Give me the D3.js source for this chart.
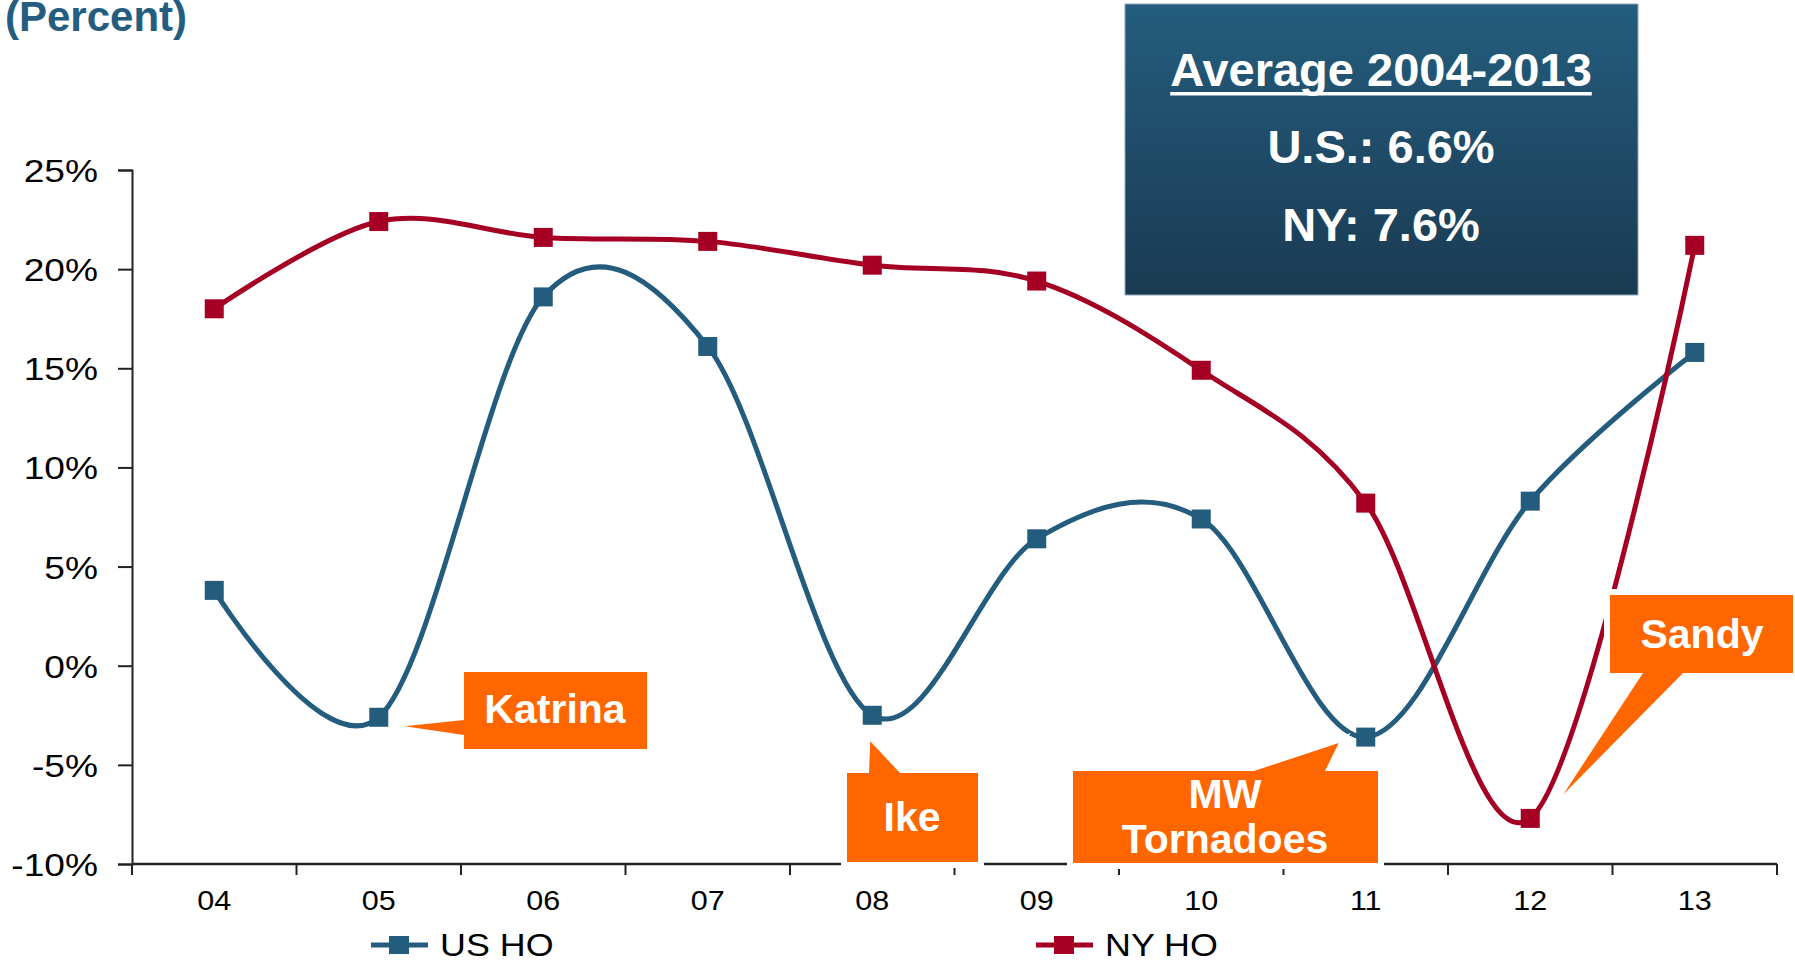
<!DOCTYPE html>
<html>
<head>
<meta charset="utf-8">
<script src="https://cdn.jsdelivr.net/npm/d3@7"></script>
<style>
  html, body { margin: 0; padding: 0; background: #fff; }
  svg { display: block; font-family: "Liberation Sans", Arial, sans-serif; }
</style>
</head>
<body>
<svg id="chart" width="1795" height="963"></svg>
<script>
// Homeowners premium growth, year over year (percent)
const years = ["04", "05", "06", "07", "08", "09", "10", "11", "12", "13"];
const usHO = [3.8, -2.6, 18.6, 16.1, -2.5, 6.4, 7.4, -3.6, 8.3, 15.8];
const nyHO = [18.0, 22.4, 21.6, 21.4, 20.2, 19.4, 14.9, 8.2, -7.7, 21.2];
const yTicks = [-10, -5, 0, 5, 10, 15, 20, 25];
const seriesNames = ["US HO", "NY HO"];
const seriesColors = ["#235c7d", "#a50024"];
const avgLines = ["Average 2004-2013", "U.S.: 6.6%", "NY: 7.6%"];

const svg = d3.select("#chart");
const plotLeft = 132, plotRight = 1777, plotTop = 170, plotBottom = 864;

const x = d3.scalePoint().domain(years).range([plotLeft, plotRight]).padding(0.5);
const y = d3.scaleLinear().domain([-10, 25]).range([plotBottom, plotTop]);
const step = x.step();

// stretch a text element horizontally by a factor (the axis lettering is set wide)
function widen(sel, k) {
  sel.each(function () {
    const w = this.getComputedTextLength();
    d3.select(this).attr("textLength", w * k).attr("lengthAdjust", "spacingAndGlyphs");
  });
}

// title
svg.append("text")
  .attr("x", 5).attr("y", 31)
  .attr("font-size", 42).attr("font-weight", "bold")
  .attr("fill", "#245d80")
  .text("(Percent)");

// y axis
const yAxis = svg.append("g")
  .attr("transform", `translate(${plotLeft},0)`)
  .call(d3.axisLeft(y).tickValues(yTicks).tickSize(14).tickPadding(20)
    .tickFormat(d => d + "%"));
yAxis.select(".domain").attr("stroke", "#222").attr("stroke-width", 2);
yAxis.selectAll(".tick line").attr("stroke", "#222").attr("stroke-width", 2);
yAxis.selectAll(".tick text")
  .attr("font-size", 32).attr("fill", "#000").attr("dy", "0.36em")
  .attr("font-family", "'Liberation Sans', Arial, sans-serif")
  .call(widen, 1.16);

// x axis: line plus ticks on the category boundaries
const xAxisG = svg.append("g");
xAxisG.append("line")
  .attr("x1", plotLeft).attr("x2", plotRight)
  .attr("y1", plotBottom).attr("y2", plotBottom)
  .attr("stroke", "#222").attr("stroke-width", 2.5);
const boundaries = d3.range(years.length + 1).map(i => plotLeft + i * step);
xAxisG.selectAll("line.tk").data(boundaries).join("line")
  .attr("class", "tk")
  .attr("x1", d => d).attr("x2", d => d)
  .attr("y1", plotBottom).attr("y2", plotBottom + 11)
  .attr("stroke", "#222").attr("stroke-width", 2);
xAxisG.selectAll("text").data(years).join("text")
  .attr("x", d => x(d)).attr("y", 910)
  .attr("text-anchor", "middle")
  .attr("font-size", 28).attr("fill", "#000")
  .text(d => d)
  .call(widen, 1.09);

// series lines (smoothed) and square markers
const line = d3.line()
  .x((d, i) => x(years[i]))
  .y(d => y(d))
  .curve(d3.curveCatmullRom.alpha(0));

[usHO, nyHO].forEach((vals, s) => {
  svg.append("path")
    .datum(vals)
    .attr("d", line)
    .attr("fill", "none")
    .attr("stroke", seriesColors[s])
    .attr("stroke-width", 5)
    .attr("stroke-linejoin", "round");
  svg.append("g").selectAll("rect").data(vals).join("rect")
    .attr("x", (d, i) => x(years[i]) - 9.5)
    .attr("y", d => y(d) - 9.5)
    .attr("width", 19).attr("height", 19)
    .attr("fill", seriesColors[s]);
});

// legend
const legendX = [371, 1036];
seriesNames.forEach((name, s) => {
  const g = svg.append("g").attr("transform", `translate(${legendX[s]},945)`);
  g.append("line").attr("x1", 0).attr("x2", 57).attr("y1", 0).attr("y2", 0)
    .attr("stroke", seriesColors[s]).attr("stroke-width", 5);
  g.append("rect").attr("x", 18).attr("y", -9).attr("width", 20).attr("height", 18)
    .attr("fill", seriesColors[s]);
  g.append("text").attr("x", 69).attr("y", 11)
    .attr("font-size", 32).attr("fill", "#000")
    .text(name)
    .call(widen, 1.12);
});

// event callouts: box, pointer side, pointer base, tip
const callouts = [
  { lines: ["Katrina"], box: [464, 672, 647, 749], side: "left", base: [720, 735], tip: [x("05") + 26, y(-2.6) + 9], cx: 555, baselines: [723] },
  { lines: ["Ike"], box: [847, 773, 978, 862], side: "top", base: [869, 900], tip: [x("08") - 2, y(-2.5) + 26], cx: 912, baselines: [831] },
  { lines: ["MW", "Tornadoes"], box: [1073, 771, 1378, 863], side: "top", base: [1254, 1325], tip: [x("11") - 27, y(-3.6) + 6], cx: 1225, baselines: [808, 853] },
  { lines: ["Sandy"], box: [1610, 595, 1793, 673], side: "bottom", base: [1643, 1683], tip: [x("12") + 33, y(-7.7) - 24], cx: 1702, baselines: [648] }
];

function calloutPoints(c) {
  const [x0, y0, x1, y1] = c.box;
  const [a, b] = c.base;
  const t = c.tip;
  if (c.side === "left")
    return [[x0, y0], [x1, y0], [x1, y1], [x0, y1], [x0, b], t, [x0, a]];
  if (c.side === "top")
    return [[x0, y0], [a, y0], t, [b, y0], [x1, y0], [x1, y1], [x0, y1]];
  return [[x0, y0], [x1, y0], [x1, y1], [b, y1], t, [a, y1], [x0, y1]];
}

callouts.forEach(c => {
  const pts = calloutPoints(c);
  const d = "M" + pts.map(p => p.join(",")).join("L") + "Z";
  svg.append("path").attr("d", d)
    .attr("fill", "#fff").attr("stroke", "#fff")
    .attr("stroke-width", 12).attr("stroke-linejoin", "miter");
  svg.append("path").attr("d", d).attr("fill", "#ff6600");
  c.lines.forEach((t, i) => {
    svg.append("text")
      .attr("x", c.cx).attr("y", c.baselines[i])
      .attr("text-anchor", "middle")
      .attr("font-size", 41).attr("font-weight", "bold")
      .attr("fill", "#fff")
      .text(t);
  });
});

// averages box
const defs = svg.append("defs");
const grad = defs.append("linearGradient").attr("id", "avgGrad")
  .attr("x1", 0).attr("y1", 0).attr("x2", 0).attr("y2", 1);
grad.append("stop").attr("offset", "0%").attr("stop-color", "#245d7e");
grad.append("stop").attr("offset", "100%").attr("stop-color", "#1a3a51");

svg.append("rect")
  .attr("x", 1125).attr("y", 4).attr("width", 513).attr("height", 291)
  .attr("fill", "url(#avgGrad)")
  .attr("stroke", "#8fa6b8").attr("stroke-width", 1);

const avgBaselines = [86, 163, 241];
avgLines.forEach((t, i) => {
  const txt = svg.append("text")
    .attr("x", 1381).attr("y", avgBaselines[i])
    .attr("text-anchor", "middle")
    .attr("font-size", 47).attr("font-weight", "bold")
    .attr("fill", "#fff")
    .text(t);
  if (i === 0) {
    const bb = txt.node().getBBox();
    svg.append("rect")
      .attr("x", bb.x).attr("y", 92)
      .attr("width", bb.width).attr("height", 3.5)
      .attr("fill", "#fff");
  }
});
</script>
</body>
</html>
